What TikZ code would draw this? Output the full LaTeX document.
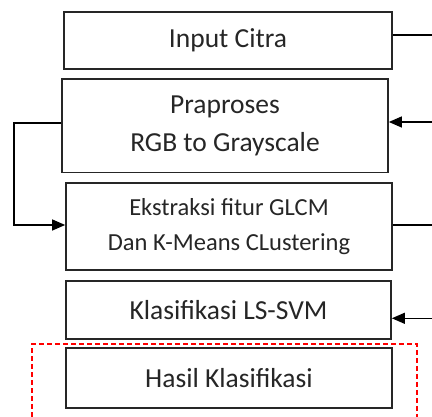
\documentclass[tikz,border=0pt]{standalone}
\usepackage{fontspec}
\setmainfont{Carlito}
\usetikzlibrary{arrows.meta}
\begin{document}
\begin{tikzpicture}[x=1pt,y=1pt,
  procbox/.style={draw=black!85,line width=1.7pt,minimum height=#1,inner sep=0pt,align=center,text=black!85},
  bigtext/.style={font=\fontsize{27.5}{38}\selectfont},
  smalltext/.style={font=\fontsize{24.5}{34.5}\selectfont},
  conn/.style={draw=black,line width=1.2pt},
  arr/.style={conn,-{Triangle[length=13pt,width=11pt]}}]
\useasboundingbox (0,0) rectangle (432,417);
\node[procbox=57pt,minimum width=328pt,bigtext] (b1) at (228,376.5) {Input Citra};
\node[procbox=93.5pt,minimum width=326pt,bigtext] (b2) at (225,291.25) {Praproses\\RGB to Grayscale};
\node[procbox=87pt,minimum width=326pt,smalltext] (b3) at (229,190.5) {Ekstraksi fitur GLCM\\Dan K-Means CLustering};
\node[procbox=58pt,minimum width=325pt,bigtext] (b4) at (228.5,107) {Klasifikasi LS-SVM};
\node[procbox=60pt,minimum width=326pt,bigtext] (b5) at (229,39) {Hasil Klasifikasi};
\coordinate (c1) at (432,382);
\coordinate (c2) at (432,295);
\coordinate (c3) at (432,192);
\coordinate (c4) at (432,98.7);
\coordinate (k1) at (14,294);
\coordinate (k2) at (14,192);
\draw[conn] (b1.east |- c1) -- (c1);
\draw[arr] (c2) -- (b2.east |- c2);
\draw[conn] (b3.east |- c3) -- (c3);
\draw[arr] (c4) -- (b4.east |- c4);
\draw[arr] (b2.west |- k1) -- (k1) -- (k2) -- (b3.west |- k2);
\coordinate (r1) at (32,0);
\coordinate (r2) at (32,73);
\coordinate (r3) at (417,73);
\coordinate (r4) at (417,0);
\draw[red,line width=1.3pt,dash pattern=on 5pt off 3pt] (r1) -- (r2) -- (r3) -- (r4);
\end{tikzpicture}
\end{document}
